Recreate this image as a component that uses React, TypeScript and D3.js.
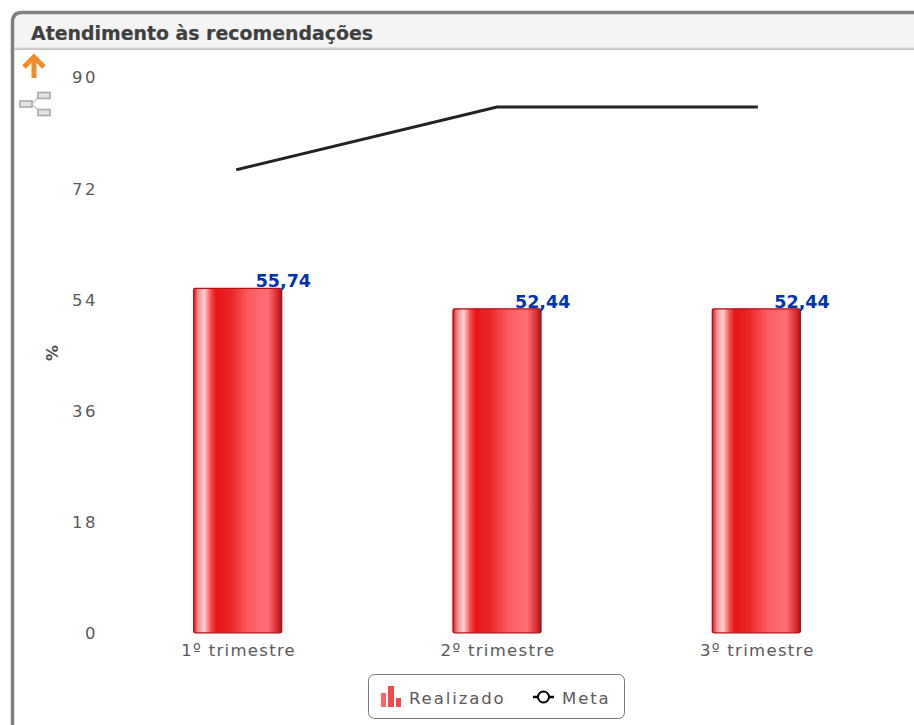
import React from "react";
import * as d3 from "d3";

const categories = ["1º trimestre", "2º trimestre", "3º trimestre"];
const realizado = [55.74, 52.44, 52.44];
const realizadoLabels = ["55,74", "52,44", "52,44"];
const meta = [75, 85.1, 85.1];
const yTicks = [0, 18, 36, 54, 72, 90];

const FONT = "'DejaVu Sans', Verdana, sans-serif";

export default function App() {
  const y = d3.scaleLinear().domain([0, 90]).range([632.8, 76.8]);
  const x = d3.scaleBand<string>().domain(categories).range([108, 886]).padding(0);
  const barW = 88;
  const cx = (c: string) => x(c)! + x.bandwidth() / 2;
  const line = d3
    .line<number>()
    .x((_, i) => cx(categories[i]))
    .y((d) => y(d));

  return (
    <svg
      width={914}
      height={725}
      style={{ position: "fixed", left: 0, top: 0, background: "#fff", display: "block" }}
      fontFamily={FONT}
    >
      <defs>
        <linearGradient id="barGrad" x1="0" x2="1" y1="0" y2="0">
          <stop offset="0" stopColor="#d81a1e" />
          <stop offset="0.05" stopColor="#f08a8c" />
          <stop offset="0.12" stopColor="#ffd2d2" />
          <stop offset="0.2" stopColor="#f04a4c" />
          <stop offset="0.26" stopColor="#e81416" />
          <stop offset="0.42" stopColor="#ea2628" />
          <stop offset="0.62" stopColor="#f85c60" />
          <stop offset="0.84" stopColor="#ff7076" />
          <stop offset="0.94" stopColor="#dc3236" />
          <stop offset="1" stopColor="#b01014" />
        </linearGradient>
      </defs>

      {/* panel */}
      <path d="M14.5,725 V23 Q14.5,14.5 23,14.5 H914 V50 H14.5 Z" fill="#f4f4f4" stroke="none" />
      <rect x={14.5} y={47} width={900} height={1} fill="#e4e4e4" />
      <rect x={14.5} y={48} width={900} height={1} fill="#d0d0d0" />
      <rect x={14.5} y={49} width={900} height={1} fill="#c4c4c4" />
      <rect x={14.5} y={50} width={900} height={675} fill="#fff" />
      <path
        d="M12.5,725 V22 Q12.5,12.5 22,12.5 H914"
        fill="none"
        stroke="#808080"
        strokeWidth={3.5}
      />
      <text x={31} y={40} fontSize={19} fontWeight={700} fill="#404040" stroke="#404040" strokeWidth={0.2} textLength={342} lengthAdjust="spacingAndGlyphs">
        Atendimento às recomendações
      </text>

      {/* icons */}
      <g stroke="#f28c28" strokeWidth={5} fill="none" strokeLinejoin="miter">
        <path d="M34,78 V58" />
        <path d="M24,67 L34,57 L44,67" />
      </g>
      <g fill="#e4e4e4" stroke="#aaa" strokeWidth={1.6}>
        <path d="M33,103 L39,96 M33,105 L39,111" stroke="#ccc" fill="none" />
        <rect x={20} y={101} width={12} height={6} />
        <rect x={38} y={92.5} width={12} height={6} />
        <rect x={38} y={109.5} width={12} height={6} />
      </g>

      {/* y axis */}
      {yTicks.map((t) => (
        <text
          key={t}
          x={98}
          y={y(t) + 6.6}
          textAnchor="end"
          fontSize={16.5}
          letterSpacing={2.5}
          fill="#595959"
        >
          {t}
        </text>
      ))}
      <text
        transform="translate(58,353) rotate(-90)"
        textAnchor="middle"
        fontSize={16}
        fontWeight={700}
        fill="#505050"
      >
        %
      </text>

      {/* bars */}
      {categories.map((c, i) => (
        <rect
          key={c}
          x={cx(c) - barW / 2}
          y={y(realizado[i])}
          width={barW}
          height={y(0) - y(realizado[i])}
          rx={1.5}
          fill="url(#barGrad)"
          stroke="#b01014"
          strokeWidth={1.3}
        />
      ))}

      {/* meta line */}
      <path d={line(meta)!} fill="none" stroke="#222" strokeWidth={3} strokeLinecap="square" />

      {/* value labels */}
      {categories.map((c, i) => (
        <text
          key={c}
          x={cx(c) + 18}
          y={y(realizado[i]) - 1}
          fontSize={17.5}
          fontWeight={700}
          fill="#0033b0"
        >
          {realizadoLabels[i]}
        </text>
      ))}

      {/* category labels */}
      {categories.map((c) => (
        <text
          key={c}
          x={cx(c) + 1}
          y={656}
          textAnchor="middle"
          fontSize={16.5}
          letterSpacing={1.3}
          fill="#595959"
        >
          {c}
        </text>
      ))}

      {/* legend */}
      <rect x={368.5} y={674.5} width={256} height={44} rx={6} fill="#fff" stroke="#777" strokeWidth={1} />
      <g fill="#f0353a">
        <rect x={381} y={693} width={5} height={14} opacity={0.75} />
        <rect x={388} y={686} width={6} height={21} opacity={0.9} />
        <rect x={396} y={698} width={5} height={9} opacity={0.9} />
      </g>
      <text x={409} y={704} fontSize={16.5} letterSpacing={1.9} fill="#595959">
        Realizado
      </text>
      <path d="M533,697 H554" stroke="#000" strokeWidth={2.5} />
      <circle cx={543.5} cy={697} r={5.5} fill="#fff" stroke="#000" strokeWidth={2} />
      <text x={562} y={704} fontSize={16.5} letterSpacing={1.9} fill="#595959">
        Meta
      </text>
    </svg>
  );
}
